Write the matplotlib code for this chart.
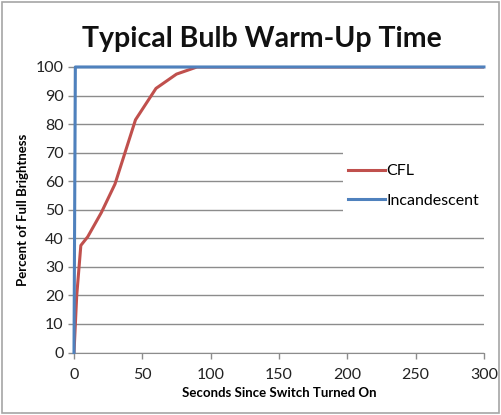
import matplotlib.pyplot as plt
from matplotlib.patches import Rectangle

plt.rcParams['font.family'] = ['Lato', 'DejaVu Sans']

# data
cfl_t = [0, 2, 5, 10, 20, 30, 38, 45, 60, 75, 90, 300]
cfl_pct = [0, 20, 37.5, 40.5, 49, 59, 71, 81.5, 92.5, 97.5, 100, 100]
inc_t = [0, 1, 300]
inc_pct = [0, 100, 100]

x_ticks = [0, 50, 100, 150, 200, 250, 300]
y_ticks = list(range(0, 101, 10))

fig = plt.figure(figsize=(5.01, 4.15), dpi=100)
ax = fig.add_axes([0.1477, 0.1506, 0.8183, 0.688])

grid_col = '#8c8c8c'
ax.set_xlim(0, 300)
ax.set_ylim(0, 100)
ax.set_xticks(x_ticks)
ax.set_yticks(y_ticks)
ax.yaxis.grid(True, color=grid_col, linewidth=1)
ax.set_axisbelow(True)

ax.plot(cfl_t, cfl_pct, color='#C0504D', linewidth=2.2, label='CFL', zorder=3)
ax.plot(inc_t, inc_pct, color='#4F81BD', linewidth=2.2, label='Incandescent',
        zorder=4, clip_on=False)

for s in ['top', 'right']:
    ax.spines[s].set_visible(False)
for s in ['left', 'bottom']:
    ax.spines[s].set_color(grid_col)
ax.tick_params(axis='both', colors=grid_col, labelcolor='#222222',
               labelsize=11.5, length=4, width=1)
ax.tick_params(axis='x', pad=7)

ax.set_xlabel('Seconds Since Switch Turned On', fontsize=9.5,
              fontweight='bold', labelpad=4)
ax.set_ylabel('Percent of Full Brightness', fontsize=9.5,
              fontweight='bold', labelpad=5)

fig.text(0.522, 0.905, 'Typical Bulb Warm-Up Time', ha='center', va='center',
         fontsize=20.5, fontweight='bold', color='#111111')

# white box behind the legend (hides the gridlines there)
ax.add_patch(Rectangle((0.656, 0.474), 0.37, 0.253, transform=ax.transAxes,
                       facecolor='white', edgecolor='none', zorder=2,
                       clip_on=False))

leg = ax.legend(loc='center left', bbox_to_anchor=(0.668, 0.583),
                frameon=False, fontsize=11.5, handlelength=2.3,
                handletextpad=0.1, labelspacing=0.95, borderpad=0,
                borderaxespad=0)
leg.set_zorder(5)

# chart border
fig.patches.append(Rectangle((0.004, 0.006), 0.992, 0.988,
                             transform=fig.transFigure, fill=False,
                             edgecolor='#a6a6a6', linewidth=1.2))

fig.savefig('out.png', dpi=100)
